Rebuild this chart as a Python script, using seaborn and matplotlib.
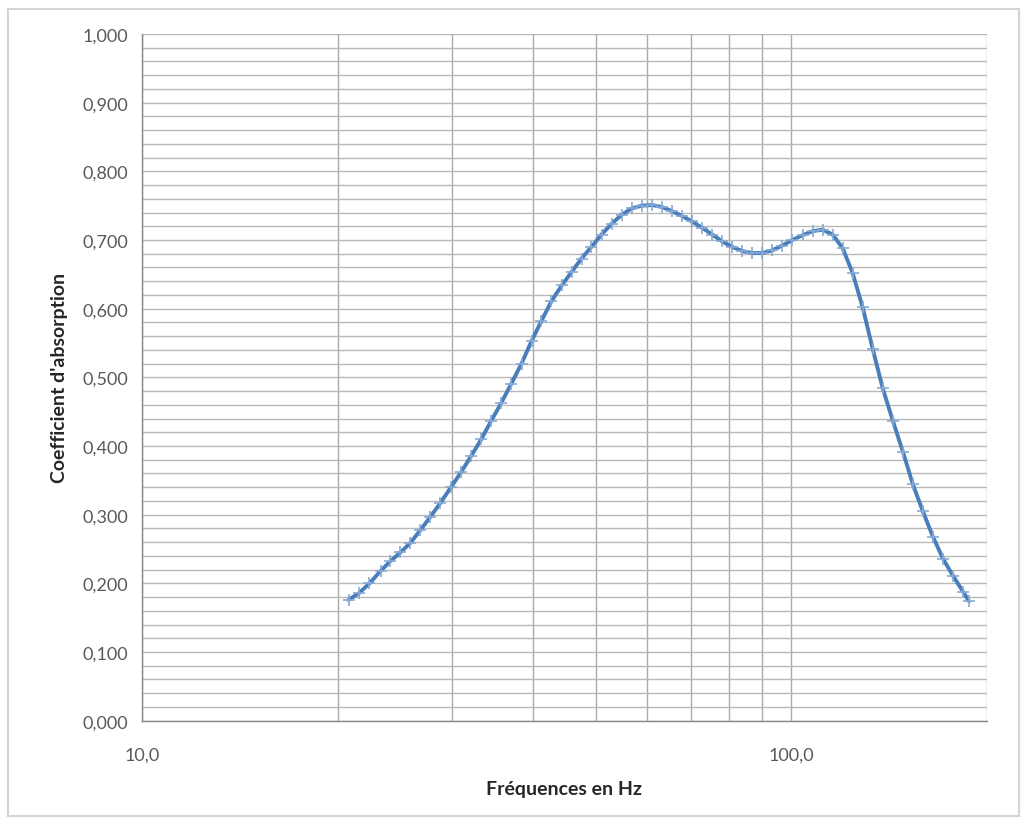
import matplotlib
matplotlib.use("Agg")
import matplotlib.pyplot as plt
from matplotlib.patches import Rectangle
from matplotlib.ticker import FixedLocator, MultipleLocator, FuncFormatter, NullFormatter
import seaborn as sns
import pandas as pd

# Measured absorption coefficient versus frequency (Hz)
frequences = [20.8, 21.6, 22.4, 23.3, 24.1, 25.0, 25.9, 26.8, 27.8, 28.8,
              29.9, 31.0, 32.1, 33.3, 34.5, 35.7, 37.0, 38.4, 39.8, 41.2,
              42.7, 44.3, 45.9, 47.5, 49.2, 51.0, 52.9, 54.8, 56.8, 58.8,
              61.0, 63.2, 65.5, 67.8, 70.3, 72.8, 75.5, 78.2, 81.0, 84.0,
              87.0, 90.2, 93.4, 96.8, 100.3, 104.0, 107.8, 111.7, 115.7, 119.9,
              124.2, 128.7, 133.4, 138.2, 143.2, 148.4, 153.8, 159.3, 165.1, 171.1,
              177.3, 183.7, 187.6]
coefficients = [0.176, 0.186, 0.200, 0.218, 0.232, 0.245, 0.259, 0.277, 0.297, 0.317,
                0.340, 0.362, 0.385, 0.410, 0.437, 0.462, 0.490, 0.520, 0.553, 0.582,
                0.611, 0.634, 0.654, 0.673, 0.690, 0.708, 0.724, 0.737, 0.746, 0.750,
                0.751, 0.748, 0.742, 0.735, 0.727, 0.718, 0.708, 0.698, 0.690, 0.684,
                0.681, 0.681, 0.685, 0.692, 0.700, 0.707, 0.713, 0.715, 0.708, 0.688,
                0.652, 0.602, 0.541, 0.484, 0.437, 0.392, 0.344, 0.305, 0.268, 0.236,
                0.211, 0.188, 0.174]

x_ticks = [10, 100]
x_tick_labels = ["10,0", "100,0"]
x_minor = [20, 30, 40, 50, 60, 70, 80, 90, 200]

df = pd.DataFrame({"f": frequences, "alpha": coefficients})

sns.set_theme(style="white")
plt.rcParams["font.family"] = ["Lato", "DejaVu Sans"]

fig = plt.figure(figsize=(10.21, 8.2), dpi=100)
ax = fig.add_axes([142 / 1021, 98.3 / 820, (987 - 142) / 1021, (721.7 - 35) / 820])

line_col = "#4a7ebb"
sns.lineplot(data=df, x="f", y="alpha", ax=ax, color=line_col, linewidth=2.8,
             zorder=3, legend=False)
sns.scatterplot(data=df, x="f", y="alpha", ax=ax, marker="+", s=80,
                color="#86a9d6", linewidth=1.2, zorder=4, legend=False)

ax.set_xscale("log")
ax.set_xlim(10, 200)
ax.set_ylim(0, 1.0)

# grid: horizontal every 0.02, vertical at the log subdivisions
ax.yaxis.set_major_locator(MultipleLocator(0.1))
ax.yaxis.set_minor_locator(MultipleLocator(0.02))
ax.xaxis.set_major_locator(FixedLocator(x_ticks))
ax.xaxis.set_minor_locator(FixedLocator(x_minor))
ax.xaxis.set_minor_formatter(NullFormatter())
ax.set_xticklabels(x_tick_labels)
ax.yaxis.set_major_formatter(FuncFormatter(lambda v, p: f"{v:.3f}".replace(".", ",")))

ax.grid(True, which="both", axis="y", color="#b8b8b8", linewidth=1.0, zorder=0)
ax.grid(True, which="both", axis="x", color="#ababab", linewidth=1.0, zorder=0)
ax.set_axisbelow(True)

for side in ("top", "right"):
    ax.spines[side].set_visible(False)
for side in ("left", "bottom"):
    ax.spines[side].set_color("#868686")
    ax.spines[side].set_linewidth(1.0)

ax.tick_params(axis="both", which="major", direction="out", length=6, width=1.0,
               color="#868686", labelsize=13, labelcolor="#595959")
ax.tick_params(axis="y", which="major", pad=4)
ax.tick_params(axis="x", which="major", pad=13)
ax.tick_params(axis="both", which="minor", length=0)

ax.set_xlabel("Fréquences en Hz", fontsize=14, fontweight="bold", color="#262626",
              labelpad=12)
ax.set_ylabel("Coefficient d'absorption", fontsize=14, fontweight="bold",
              color="#262626", labelpad=10)

# light chart-area frame
fig.patches.append(Rectangle((8 / 1021, 3 / 820), 1011 / 1021, 807 / 820,
                             transform=fig.transFigure, fill=False,
                             edgecolor="#d4d4d4", linewidth=1.5))

fig.savefig("out.png", dpi=100, facecolor="white")
